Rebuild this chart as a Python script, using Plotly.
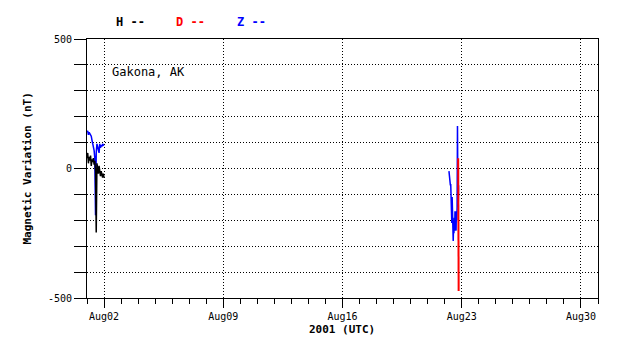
import plotly.graph_objects as go
import pandas as pd

# ---- data ----
# Left cluster: Aug 1 2001, hourly
left_times = pd.date_range("2001-08-01 00:00", periods=25, freq="h")
H_left = [40, 60, 20, 45, 30, 50, 10, 35, 25, 40, 15, 30, -10, -247, 20, 0, -20, 10, -15, -30, -10, -25, -35, -20, -35]
Z_left = [140, 145, 130, 140, 135, 128, 125, 110, 100, 80, 70, 40, -180, 60, 95, 85, 70, 60, 95, 80, 90, 85, 95, 90, 92]

# Right cluster: Aug 22 2001, half-hourly
right_times = pd.date_range("2001-08-22 06:00", periods=28, freq="30min")
Z_right = [-10, -30, -25, -50, -65, -60, -120, -105, -210, -110, -215, -200, -280, -220,
           -250, -190, -240, -165, -230, -170, -240, -165, -200, -150, 164, -60, -150, -65]
D_times = pd.to_datetime(["2001-08-22 19:00", "2001-08-22 19:20", "2001-08-22 19:40"])
D_right = [40, -150, -473]

y_ticks = list(range(-500, 501, 100))
y_labels = ["-500", "", "", "", "", "0", "", "", "", "", "500"]
x_ticks = pd.to_datetime(["2001-08-02", "2001-08-09", "2001-08-16", "2001-08-23", "2001-08-30"])
x_labels = ["Aug02", "Aug09", "Aug16", "Aug23", "Aug30"]

FONT = "DejaVu Sans Mono"

def join(t1, v1, t2, v2):
    t = list(t1) + [t1[-1] + pd.Timedelta(hours=1)] + list(t2)
    v = list(v1) + [None] + list(v2)
    return t, v

fig = go.Figure()
tz, vz = join(left_times, Z_left, right_times, Z_right)
fig.add_trace(go.Scatter(x=tz, y=vz, mode="lines", line=dict(color="blue", width=1.5),
                         connectgaps=False, showlegend=False, name="Z"))
fig.add_trace(go.Scatter(x=list(left_times), y=H_left, mode="lines", line=dict(color="black", width=1.5),
                         showlegend=False, name="H"))
fig.add_trace(go.Scatter(x=list(D_times), y=D_right, mode="lines", line=dict(color="red", width=2),
                         showlegend=False, name="D"))

DOT = "1px,2px"
fig.update_layout(
    width=630, height=351,
    margin=dict(l=79, r=40, t=31, b=61),
    paper_bgcolor="white", plot_bgcolor="white",
    font=dict(family=FONT, size=10, color="black"),
    xaxis=dict(
        range=["2001-08-01", "2001-08-31"],
        tickvals=x_ticks, ticktext=x_labels,
        ticks="outside", ticklen=9, tickcolor="black", tickwidth=1,
        showgrid=True, gridcolor="black", griddash=DOT, gridwidth=1,
        showline=True, linecolor="black", linewidth=1, mirror=True,
        zeroline=False,
        minor=dict(dtick=86400000, tick0="2001-08-01", ticks="outside", ticklen=5,
                   tickcolor="black", showgrid=False),
        tickfont=dict(family=FONT, size=10),
    ),
    yaxis=dict(
        range=[-500, 500],
        tickvals=y_ticks, ticktext=y_labels,
        ticks="outside", ticklen=12, tickcolor="black", tickwidth=1,
        showgrid=True, gridcolor="black", griddash=DOT, gridwidth=1,
        showline=True, linecolor="black", linewidth=1, mirror=True,
        zeroline=False,
        tickfont=dict(family=FONT, size=10),
    ),
    annotations=[
        dict(text="<b>H --</b>", x=0.086, y=1.0656, xref="paper", yref="paper", showarrow=False,
             xanchor="center", yanchor="middle", font=dict(family=FONT, size=12, color="black")),
        dict(text="<b>D --</b>", x=0.2035, y=1.0656, xref="paper", yref="paper", showarrow=False,
             xanchor="center", yanchor="middle", font=dict(family=FONT, size=12, color="red")),
        dict(text="<b>Z --</b>", x=0.321, y=1.0656, xref="paper", yref="paper", showarrow=False,
             xanchor="center", yanchor="middle", font=dict(family=FONT, size=12, color="blue")),
        dict(text="Gakona, AK", x=0.045, y=0.8726, xref="paper", yref="paper", showarrow=False,
             xanchor="left", yanchor="middle", font=dict(family=FONT, size=12, color="black")),
        dict(text="<b>Magnetic Variation (nT)</b>", x=-0.1174, y=0.5, xref="paper", yref="paper",
             showarrow=False, textangle=-90, xanchor="center", yanchor="middle",
             font=dict(family=FONT, size=11, color="black")),
        dict(text="<b>2001 (UTC)</b>", x=0.499, y=-0.1215, xref="paper", yref="paper",
             showarrow=False, xanchor="center", yanchor="middle",
             font=dict(family=FONT, size=11, color="black")),
    ],
)

fig.write_html("out.html")
